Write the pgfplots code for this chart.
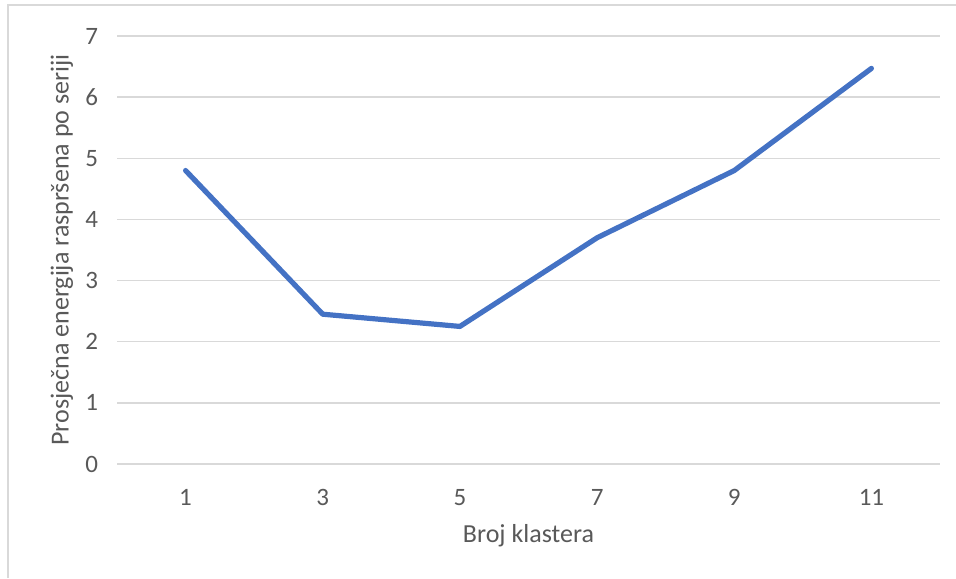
\documentclass[border=0pt]{standalone}
\usepackage{fontspec}
\setmainfont{Carlito}
\usepackage{pgfplots}
\pgfplotsset{compat=1.18}
\definecolor{linblue}{HTML}{4472C4}
\definecolor{gridgray}{HTML}{D9D9D9}
\definecolor{txtgray}{HTML}{595959}
\begin{document}
\begin{tikzpicture}
\begin{axis}[
    scale only axis,
    width=411.5pt, height=214pt,
    xmin=0, xmax=12,
    ymin=0, ymax=7,
    xtick={1,3,5,7,9,11},
    ytick={0,1,...,7},
    axis line style={draw=none},
    axis x line*=bottom,
    major tick length=0pt,
    ymajorgrids,
    grid style={gridgray, line width=0.75pt},
    /pgf/number format/assume math mode=true,
    ticklabel style={font=\fontsize{12.5}{15}\selectfont, text=txtgray},
    xticklabel style={yshift=-9pt},
    yticklabel style={xshift=-6pt},
    xlabel={Broj klastera},
    ylabel={Prosječna energija raspršena po seriji},
    label style={font=\fontsize{13}{15}\selectfont, text=txtgray},
    xlabel style={at={(axis description cs:0.5,0)}, anchor=center, yshift=-36pt},
    ylabel style={at={(axis description cs:-0.0668,0.5)}, anchor=center},
    clip=false,
]
\addplot[linblue, line width=2.6pt, line join=round, line cap=round] coordinates {
    (1, 4.8)
    (3, 2.45)
    (5, 2.25)
    (7, 3.7)
    (9, 4.8)
    (11, 6.47)
};
\end{axis}
\pgfresetboundingbox
\path[use as bounding box] (-58.5pt,-57pt) rectangle (419.5pt,232pt);
\draw[gridgray, line width=0.75pt] (-54.5pt,-57pt) -- (-54.5pt,229.5pt) -- (419.5pt,229.5pt);
\end{tikzpicture}
\end{document}
